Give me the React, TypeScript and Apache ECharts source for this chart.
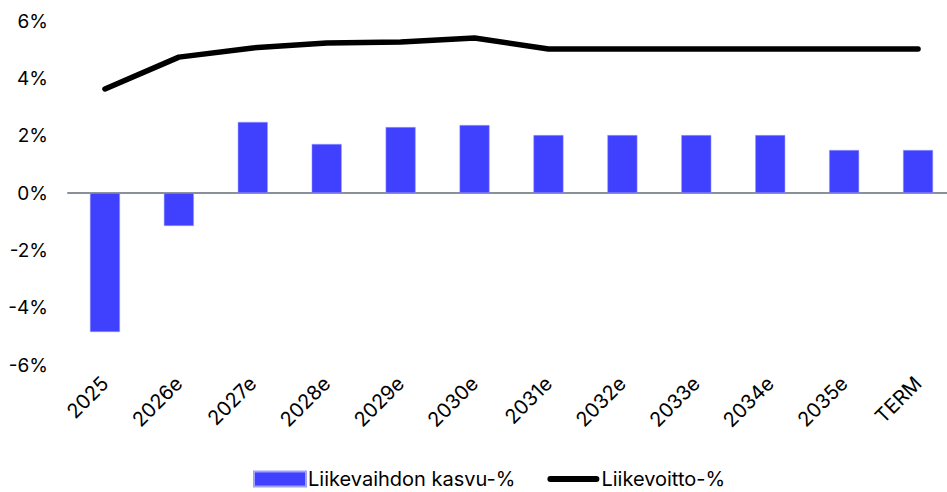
import React, { useEffect, useRef } from "react";
import * as echarts from "echarts";

const categories = ["2025", "2026e", "2027e", "2028e", "2029e", "2030e", "2031e", "2032e", "2033e", "2034e", "2035e", "TERM"];
const revenueGrowth = [-4.85, -1.15, 2.48, 1.71, 2.3, 2.37, 2.02, 2.02, 2.02, 2.02, 1.5, 1.5];
const ebitMargin = [3.63, 4.74, 5.06, 5.23, 5.27, 5.41, 5.02, 5.02, 5.02, 5.02, 5.02, 5.02];
const yTicks = { min: -6, max: 6, interval: 2 };

export default function App() {
  const ref = useRef<HTMLDivElement>(null);
  useEffect(() => {
    if (!ref.current) return;
    const chart = echarts.init(ref.current, null, { renderer: "svg" });
    const font = "Inter, Liberation Sans, Arial, sans-serif";
    chart.setOption({
      animation: false,
      textStyle: { fontFamily: font },
      grid: {
        left: 68,
        width: 887,
        top: 21,
        bottom: 127,
        containLabel: false,
        outerBoundsMode: "none",
      },
      legend: {
        bottom: -2,
        left: 248,
        itemWidth: 52,
        itemHeight: 15,
        itemGap: 32,
        textStyle: { fontSize: 20, color: "#000", fontFamily: font, padding: [0, 0, 0, -3] },
        data: [
          { name: "Liikevaihdon kasvu-%", icon: "rect" },
          {
            name: "Liikevoitto-%",
            icon: "path://M3,0 H49 A3,3 0 0 1 49,6 H3 A3,3 0 0 1 3,0 Z",
          },
        ],
      },
      xAxis: {
        type: "category",
        data: categories,
        axisLine: { onZero: true, lineStyle: { color: "#8a9099", width: 2 } },
        axisTick: { show: false },
        axisLabel: {
          rotate: 45,
          fontSize: 20,
          color: "#000",
          margin: 15,
          interval: 0,
        },
      },
      yAxis: {
        type: "value",
        min: yTicks.min,
        max: yTicks.max,
        interval: yTicks.interval,
        splitLine: { show: false },
        axisLine: { show: false },
        axisTick: { show: false },
        axisLabel: {
          fontSize: 19,
          color: "#000",
          margin: 20,
          formatter: (v: number) => `${v}%`,
        },
      },
      series: [
        {
          name: "Liikevaihdon kasvu-%",
          type: "bar",
          data: revenueGrowth,
          barWidth: 30,
          itemStyle: { color: "#4040ff", borderColor: "#a0a0ff", borderWidth: 0.5 },
        },
        {
          name: "Liikevoitto-%",
          type: "line",
          data: ebitMargin,
          symbol: "none",
          lineStyle: { color: "#000", width: 5.5, cap: "round" },
          itemStyle: { color: "#000" },
        },
      ],
    });
    return () => chart.dispose();
  }, []);
  return <div ref={ref} style={{ position: "absolute", left: 0, top: 0, width: 947, height: 492 }} />;
}
